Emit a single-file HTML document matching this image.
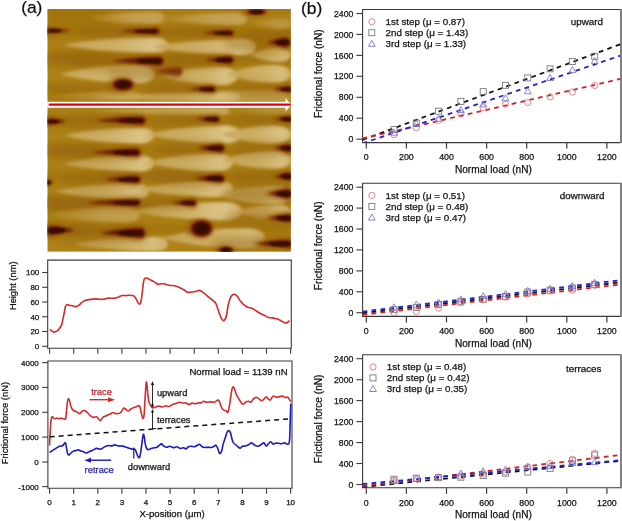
<!DOCTYPE html><html><head><meta charset="utf-8"><style>html,body{margin:0;padding:0;background:#fff;}svg{display:block;font-family:"Liberation Sans", sans-serif;will-change:transform;}</style></head><body>
<svg width="622" height="521" viewBox="0 0 622 521">
<rect width="622" height="521" fill="#fff"/>
<defs><clipPath id="afmclip"><rect x="47.3" y="9.0" width="243.6" height="242.8"/></clipPath><filter id="bl4" x="-20%" y="-80%" width="140%" height="260%"><feGaussianBlur stdDeviation="4"/></filter><filter id="bl3" x="-20%" y="-80%" width="140%" height="260%"><feGaussianBlur stdDeviation="2.2"/></filter><filter id="blL" x="-20%" y="-80%" width="140%" height="260%"><feGaussianBlur stdDeviation="1.4"/></filter><filter id="bl1" x="-20%" y="-80%" width="140%" height="260%"><feGaussianBlur stdDeviation="1.1"/></filter><filter id="bl2" x="-20%" y="-80%" width="140%" height="260%"><feGaussianBlur stdDeviation="1.5"/></filter><linearGradient id="lg" x1="0" y1="0" x2="1" y2="0"><stop offset="0" stop-color="#c6a458"/><stop offset="0.55" stop-color="#d4b872"/><stop offset="0.85" stop-color="#dec88e"/><stop offset="1" stop-color="#d4b872"/></linearGradient><linearGradient id="lgm" x1="0" y1="0" x2="1" y2="0"><stop offset="0" stop-color="#ae8218"/><stop offset="0.6" stop-color="#c6a458"/><stop offset="1" stop-color="#c6a458"/></linearGradient></defs>
<g clip-path="url(#afmclip)">
<rect x="47.3" y="9.0" width="243.59999999999997" height="242.8" fill="#ae8218"/>
<g filter="url(#bl4)">
<rect x="40" y="5" width="260" height="6" rx="4" fill="#98660a" opacity="0.55"/>
<rect x="40" y="26" width="260" height="11" rx="4" fill="#98660a" opacity="0.55"/>
<rect x="240" y="30" width="60" height="17" rx="4" fill="#98660a" opacity="0.55"/>
<rect x="169" y="52" width="122" height="11" rx="4" fill="#98660a" opacity="0.55"/>
<rect x="47" y="50" width="68" height="12" rx="4" fill="#98660a" opacity="0.55"/>
<rect x="47" y="84" width="73" height="15" rx="4" fill="#98660a" opacity="0.55"/>
<rect x="40" y="56" width="260" height="8" rx="4" fill="#98660a" opacity="0.55"/>
<rect x="40" y="84" width="260" height="7" rx="4" fill="#98660a" opacity="0.55"/>
<rect x="40" y="117" width="260" height="8" rx="4" fill="#98660a" opacity="0.55"/>
<rect x="40" y="146" width="260" height="8" rx="4" fill="#98660a" opacity="0.55"/>
<rect x="40" y="172" width="260" height="9" rx="4" fill="#98660a" opacity="0.55"/>
<rect x="40" y="198" width="260" height="9" rx="4" fill="#98660a" opacity="0.55"/>
<rect x="40" y="224" width="260" height="10" rx="4" fill="#98660a" opacity="0.55"/>
<rect x="47" y="10" width="63" height="14" rx="4" fill="#98660a" opacity="0.55"/>
<rect x="47" y="55" width="43" height="11" rx="4" fill="#98660a" opacity="0.55"/>
<rect x="47" y="196" width="53" height="18" rx="4" fill="#98660a" opacity="0.55"/>
<rect x="47" y="144" width="53" height="12" rx="4" fill="#98660a" opacity="0.55"/>
<rect x="100" y="170" width="100" height="10" rx="4" fill="#98660a" opacity="0.55"/>
<rect x="47" y="223" width="43" height="13" rx="4" fill="#98660a" opacity="0.55"/>
</g>
<g filter="url(#blL)">
<path d="M88,18 C114.95,12 150.6,12 155.4,12 A9.600000000000001,6 0 0 1 155.4,24 C150.6,24 114.95,24 88,18 Z" fill="url(#lgm)" opacity="0.9"/>
<path d="M158,19 C189.15,13 232.6,13 237.4,13 A9.600000000000001,6 0 0 1 237.4,25 C232.6,25 189.15,25 158,19 Z" fill="url(#lgm)" opacity="0.9"/>
<path d="M250,24 C264.35,19 279.0,19 283.0,19 A8.0,5 0 0 1 283.0,29 C279.0,29 264.35,29 250,24 Z" fill="url(#lgm)" opacity="0.6"/>
<path d="M64,45 C100.4,37 148.8,37 155.2,37 A12.8,8 0 0 1 155.2,53 C148.8,53 100.4,53 64,45 Z" fill="url(#lg)" opacity="0.95"/>
<path d="M152,47 C188.4,39 236.8,39 243.2,39 A12.8,8 0 0 1 243.2,55 C236.8,55 188.4,55 152,47 Z" fill="url(#lg)" opacity="0.95"/>
<path d="M250,55 C264.35,48 274.2,48 279.8,48 A11.200000000000001,7 0 0 1 279.8,62 C274.2,62 264.35,62 250,55 Z" fill="url(#lg)" opacity="0.8"/>
<path d="M60,74 C93.25,65 133.4,65 140.6,65 A14.4,9 0 0 1 140.6,83 C133.4,83 93.25,83 60,74 Z" fill="url(#lg)" opacity="1.0"/>
<path d="M161,76 C187.95,67 216.4,67 223.6,67 A14.4,9 0 0 1 223.6,85 C216.4,85 187.95,85 161,76 Z" fill="url(#lg)" opacity="0.9"/>
<path d="M226,74 C248.75,65 269.4,65 276.6,65 A14.4,9 0 0 1 276.6,83 C269.4,83 248.75,83 226,74 Z" fill="url(#lg)" opacity="0.85"/>
<path d="M50,96 C81.5,91 128.0,91 132.0,91 A8.0,5 0 0 1 132.0,101 C128.0,101 81.5,101 50,96 Z" fill="url(#lgm)" opacity="0.6"/>
<path d="M140,96 C192.85,90 276.6,90 281.4,90 A9.600000000000001,6 0 0 1 281.4,102 C276.6,102 192.85,102 140,96 Z" fill="url(#lgm)" opacity="0.8"/>
<path d="M95,97 C145.75,92.5 229.2,92.5 232.8,92.5 A7.2,4.5 0 0 1 232.8,101.5 C229.2,101.5 145.75,101.5 95,97 Z" fill="url(#lg)" opacity="0.75"/>
<path d="M90,111 C139.0,107 220.4,107 223.6,107 A6.4,4 0 0 1 223.6,115 C220.4,115 139.0,115 90,111 Z" fill="url(#lg)" opacity="0.6"/>
<path d="M230,111 C251.35,107.5 282.6,107.5 285.4,107.5 A5.6000000000000005,3.5 0 0 1 285.4,114.5 C282.6,114.5 251.35,114.5 230,111 Z" fill="url(#lgm)" opacity="0.6"/>
<path d="M64,135.5 C95.5,127.5 134.8,127.5 141.2,127.5 A12.8,8 0 0 1 141.2,143.5 C134.8,143.5 95.5,143.5 64,135.5 Z" fill="url(#lg)" opacity="0.95"/>
<path d="M147,134.5 C180.25,125.5 220.4,125.5 227.6,125.5 A14.4,9 0 0 1 227.6,143.5 C220.4,143.5 180.25,143.5 147,134.5 Z" fill="url(#lg)" opacity="0.95"/>
<path d="M222,134.5 C246.15,125.5 269.4,125.5 276.6,125.5 A14.4,9 0 0 1 276.6,143.5 C269.4,143.5 246.15,143.5 222,134.5 Z" fill="url(#lg)" opacity="0.95"/>
<path d="M64,163.5 C95.5,155.5 134.8,155.5 141.2,155.5 A12.8,8 0 0 1 141.2,171.5 C134.8,171.5 95.5,171.5 64,163.5 Z" fill="url(#lg)" opacity="0.9"/>
<path d="M147,162.5 C177.1,153.5 211.4,153.5 218.6,153.5 A14.4,9 0 0 1 218.6,171.5 C211.4,171.5 177.1,171.5 147,162.5 Z" fill="url(#lg)" opacity="0.9"/>
<path d="M222,160 C246.15,151 269.4,151 276.6,151 A14.4,9 0 0 1 276.6,169 C269.4,169 246.15,169 222,160 Z" fill="url(#lg)" opacity="0.9"/>
<path d="M55,191.5 C87.9,183.5 129.8,183.5 136.2,183.5 A12.8,8 0 0 1 136.2,199.5 C129.8,199.5 87.9,199.5 55,191.5 Z" fill="url(#lg)" opacity="0.85"/>
<path d="M138,189 C171.25,181 213.8,181 220.2,181 A12.8,8 0 0 1 220.2,197 C213.8,197 171.25,197 138,189 Z" fill="url(#lg)" opacity="0.9"/>
<path d="M217,195 C242.9,186 269.4,186 276.6,186 A14.4,9 0 0 1 276.6,204 C269.4,204 242.9,204 217,195 Z" fill="url(#lg)" opacity="0.85"/>
<path d="M47,214.5 C79.55,206.5 120.8,206.5 127.2,206.5 A12.8,8 0 0 1 127.2,222.5 C120.8,222.5 79.55,222.5 47,214.5 Z" fill="url(#lgm)" opacity="0.85"/>
<path d="M133,211 C171.15,202 220.4,202 227.6,202 A14.4,9 0 0 1 227.6,220 C220.4,220 171.15,220 133,211 Z" fill="url(#lg)" opacity="0.95"/>
<path d="M235,212 C254.6,205 274.2,205 279.8,205 A11.200000000000001,7 0 0 1 279.8,219 C274.2,219 254.6,219 235,212 Z" fill="url(#lg)" opacity="0.8"/>
<path d="M74,244 C106.9,237 151.2,237 156.8,237 A11.200000000000001,7 0 0 1 156.8,251 C151.2,251 106.9,251 74,244 Z" fill="url(#lg)" opacity="0.85"/>
<path d="M161,238 C197.4,228 241.0,228 249.0,228 A16.0,10 0 0 1 249.0,248 C241.0,248 197.4,248 161,238 Z" fill="url(#lg)" opacity="0.9"/>
</g>
<g filter="url(#bl4)" fill="#92600a" opacity="0.42">
<ellipse cx="117.0" cy="31.8" rx="42.0" ry="6.8"/>
<ellipse cx="195.5" cy="33.5" rx="37.5" ry="6.5"/>
<ellipse cx="256.5" cy="43.0" rx="33.5" ry="9.0"/>
<ellipse cx="115.0" cy="61.5" rx="48.0" ry="8.5"/>
<ellipse cx="196.5" cy="60.5" rx="36.5" ry="7.5"/>
<ellipse cx="143.5" cy="72.0" rx="38.5" ry="9.0"/>
<ellipse cx="180.0" cy="89.8" rx="35.0" ry="6.8"/>
<ellipse cx="260.5" cy="89.8" rx="31.5" ry="6.8"/>
<ellipse cx="98.0" cy="121.0" rx="47.0" ry="8.0"/>
<ellipse cx="185.0" cy="119.8" rx="34.0" ry="6.8"/>
<ellipse cx="261.0" cy="119.8" rx="31.0" ry="6.8"/>
<ellipse cx="93.5" cy="153.0" rx="46.5" ry="8.0"/>
<ellipse cx="188.5" cy="148.8" rx="35.5" ry="7.8"/>
<ellipse cx="261.0" cy="148.8" rx="31.0" ry="7.8"/>
<ellipse cx="100.0" cy="180.0" rx="40.0" ry="7.5"/>
<ellipse cx="187.0" cy="179.0" rx="37.0" ry="8.0"/>
<ellipse cx="261.0" cy="177.0" rx="31.0" ry="8.0"/>
<ellipse cx="91.0" cy="203.2" rx="49.0" ry="7.2"/>
<ellipse cx="161.5" cy="203.5" rx="34.5" ry="7.0"/>
<ellipse cx="257.5" cy="194.2" rx="34.5" ry="9.2"/>
<ellipse cx="257.5" cy="218.8" rx="34.5" ry="8.2"/>
<ellipse cx="100.0" cy="233.5" rx="45.0" ry="9.5"/>
<ellipse cx="251.0" cy="244.2" rx="41.0" ry="8.2"/>
</g>
<g filter="url(#bl3)" fill="#9a5a08" opacity="0.75">
<path d="M72,30.75 Q57.0,26.475 46.75,26.0 A4.75,4.75 0 0 0 46.75,35.5 Q57.0,33.125 72,30.75 Z"/>
<path d="M115,31.25 Q138.0,26.525 155.75,26.0 A5.25,5.25 0 0 1 155.75,36.5 Q138.0,33.875 115,31.25 Z"/>
<path d="M198,33.0 Q216.5,28.5 230.0,28.0 A5.0,5.0 0 0 1 230.0,38.0 Q216.5,35.5 198,33.0 Z"/>
<ellipse cx="255.0" cy="11.75" rx="13.0" ry="4.75"/>
<path d="M263,42.5 Q277.5,35.75 284.5,35.0 A7.5,7.5 0 0 1 284.5,50.0 Q277.5,46.25 263,42.5 Z"/>
<path d="M107,61.0 Q136.0,54.7 158.0,54.0 A7.0,7.0 0 0 1 158.0,68.0 Q136.0,64.5 107,61.0 Z"/>
<path d="M200,60.0 Q217.5,54.6 229.0,54.0 A6.0,6.0 0 0 1 229.0,66.0 Q217.5,63.0 200,60.0 Z"/>
<path d="M150,71.5 Q166.0,66.55 176.5,66.0 A5.5,5.5 0 0 1 176.5,77.0 Q166.0,74.25 150,71.5 Z"/>
<path d="M150,71.5 Q166.0,66.55 176.5,66.0 A5.5,5.5 0 0 1 176.5,77.0 Q166.0,74.25 150,71.5 Z"/>
<ellipse cx="121.5" cy="84.5" rx="13.5" ry="7.5"/>
<path d="M185,89.25 Q201.0,84.525 211.75,84.0 A5.25,5.25 0 0 1 211.75,94.5 Q201.0,91.875 185,89.25 Z"/>
<path d="M269,89.25 Q281.5,84.525 288.75,84.0 A5.25,5.25 0 0 1 288.75,94.5 Q281.5,91.875 269,89.25 Z"/>
<path d="M68,121.5 Q55.0,116.55 47.5,116.0 A5.5,5.5 0 0 0 47.5,127.0 Q55.0,124.25 68,121.5 Z"/>
<path d="M91,120.5 Q119.0,114.65 140.5,114.0 A6.5,6.5 0 0 1 140.5,127.0 Q119.0,123.75 91,120.5 Z"/>
<path d="M191,119.25 Q206.0,114.525 215.75,114.0 A5.25,5.25 0 0 1 215.75,124.5 Q206.0,121.875 191,119.25 Z"/>
<path d="M270,119.25 Q282.0,114.525 288.75,114.0 A5.25,5.25 0 0 1 288.75,124.5 Q282.0,121.875 270,119.25 Z"/>
<path d="M87,152.5 Q114.5,146.65 135.5,146.0 A6.5,6.5 0 0 1 135.5,159.0 Q114.5,155.75 87,152.5 Z"/>
<path d="M193,148.25 Q209.5,142.625 219.75,142.0 A6.25,6.25 0 0 1 219.75,154.5 Q209.5,151.375 193,148.25 Z"/>
<path d="M270,148.25 Q282.0,142.625 287.75,142.0 A6.25,6.25 0 0 1 287.75,154.5 Q282.0,151.375 270,148.25 Z"/>
<path d="M54,182.5 Q48.0,177.55 47.5,177.0 A5.5,5.5 0 0 0 47.5,188.0 Q48.0,185.25 54,182.5 Z"/>
<path d="M100,179.5 Q121.0,174.1 136.0,173.5 A6.0,6.0 0 0 1 136.0,185.5 Q121.0,182.5 100,179.5 Z"/>
<path d="M190,178.5 Q208.0,172.65 219.5,172.0 A6.5,6.5 0 0 1 219.5,185.0 Q208.0,181.75 190,178.5 Z"/>
<path d="M270,176.5 Q282.0,170.65 287.5,170.0 A6.5,6.5 0 0 1 287.5,183.0 Q282.0,179.75 270,176.5 Z"/>
<path d="M82,202.75 Q112.0,197.575 136.25,197.0 A5.75,5.75 0 0 1 136.25,208.5 Q112.0,205.625 82,202.75 Z"/>
<path d="M167,203.0 Q182.5,198.05 192.5,197.5 A5.5,5.5 0 0 1 192.5,208.5 Q182.5,205.75 167,203.0 Z"/>
<path d="M263,193.75 Q278.5,186.775 286.25,186.0 A7.75,7.75 0 0 1 286.25,201.5 Q278.5,197.625 263,193.75 Z"/>
<path d="M263,218.25 Q278.5,212.175 287.25,211.5 A6.75,6.75 0 0 1 287.25,225.0 Q278.5,221.625 263,218.25 Z"/>
<path d="M77,230.5 Q59.5,223.75 49.5,223.0 A7.5,7.5 0 0 0 49.5,238.0 Q59.5,234.25 77,230.5 Z"/>
<path d="M95,233.0 Q121.0,225.8 139.0,225.0 A8.0,8.0 0 0 1 139.0,241.0 Q121.0,237.0 95,233.0 Z"/>
<ellipse cx="200.0" cy="228.5" rx="14.0" ry="10.0"/>
<path d="M250,243.75 Q272.0,237.675 287.25,237.0 A6.75,6.75 0 0 1 287.25,250.5 Q272.0,247.125 250,243.75 Z"/>
<ellipse cx="224.5" cy="250.5" rx="10.5" ry="5.5"/>
</g>
<g filter="url(#bl2)" fill="#5e0c02">
<path d="M70,30.75 Q58.5,28.77 49.2,28.549999999999997 A2.200000000000001,2.200000000000001 0 0 0 49.2,32.95 Q58.5,31.85 70,30.75 Z"/>
<path d="M120,31.25 Q139.5,28.91 156.4,28.65 A2.6000000000000014,2.6000000000000014 0 0 1 156.4,33.85 Q139.5,32.55 120,31.25 Z"/>
<path d="M203,33.0 Q218.0,30.84 230.6,30.6 A2.3999999999999986,2.3999999999999986 0 0 1 230.6,35.4 Q218.0,34.2 203,33.0 Z"/>
<ellipse cx="256.5" cy="11.75" rx="9.5" ry="2.75"/>
<path d="M268,42.5 Q279.0,38.54 285.6,38.1 A4.399999999999999,4.399999999999999 0 0 1 285.6,46.9 Q279.0,44.7 268,42.5 Z"/>
<path d="M112,61.0 Q137.5,57.4 159.0,57.0 A4.0,4.0 0 0 1 159.0,65.0 Q137.5,63.0 112,61.0 Z"/>
<path d="M205,60.0 Q219.0,57.12 229.8,56.8 A3.200000000000003,3.200000000000003 0 0 1 229.8,63.2 Q219.0,61.6 205,60.0 Z"/>
<path d="M156,71.5 Q169.0,67.9 178.0,67.5 A4.0,4.0 0 0 1 178.0,75.5 Q169.0,73.5 156,71.5 Z" opacity="0.55"/>
<ellipse cx="123.0" cy="84.5" rx="10.0" ry="5.5"/>
<path d="M190,89.25 Q202.5,86.91000000000001 212.4,86.65 A2.5999999999999943,2.5999999999999943 0 0 1 212.4,91.85 Q202.5,90.55 190,89.25 Z"/>
<path d="M274,89.25 Q283.0,86.91000000000001 289.4,86.65 A2.5999999999999943,2.5999999999999943 0 0 1 289.4,91.85 Q283.0,90.55 274,89.25 Z"/>
<path d="M66,121.5 Q56.5,118.98 49.8,118.7 A2.799999999999997,2.799999999999997 0 0 0 49.8,124.3 Q56.5,122.9 66,121.5 Z"/>
<path d="M96,120.5 Q120.5,117.26 141.4,116.9 A3.5999999999999943,3.5999999999999943 0 0 1 141.4,124.1 Q120.5,122.3 96,120.5 Z"/>
<path d="M196,119.25 Q207.5,116.91000000000001 216.4,116.65 A2.5999999999999943,2.5999999999999943 0 0 1 216.4,121.85 Q207.5,120.55 196,119.25 Z"/>
<path d="M275,119.25 Q283.5,116.91000000000001 289.4,116.65 A2.5999999999999943,2.5999999999999943 0 0 1 289.4,121.85 Q283.5,120.55 275,119.25 Z"/>
<path d="M92,152.5 Q116.0,149.26 136.4,148.9 A3.5999999999999943,3.5999999999999943 0 0 1 136.4,156.1 Q116.0,154.3 92,152.5 Z"/>
<path d="M198,148.25 Q211.0,145.19 220.6,144.85 A3.4000000000000057,3.4000000000000057 0 0 1 220.6,151.65 Q211.0,149.95 198,148.25 Z"/>
<path d="M275,148.25 Q283.5,145.19 288.6,144.85 A3.4000000000000057,3.4000000000000057 0 0 1 288.6,151.65 Q283.5,149.95 275,148.25 Z"/>
<path d="M52,182.5 Q49.5,179.98 49.5,179.7 A2.5,2.8000000000000114 0 0 0 49.5,185.3 Q49.5,183.9 52,182.5 Z"/>
<path d="M105,179.5 Q122.5,176.62 136.8,176.3 A3.1999999999999886,3.1999999999999886 0 0 1 136.8,182.7 Q122.5,181.1 105,179.5 Z"/>
<path d="M195,178.5 Q209.5,175.26 220.4,174.9 A3.5999999999999943,3.5999999999999943 0 0 1 220.4,182.1 Q209.5,180.3 195,178.5 Z"/>
<path d="M275,176.5 Q283.5,173.26 288.4,172.9 A3.5999999999999943,3.5999999999999943 0 0 1 288.4,180.1 Q283.5,178.3 275,176.5 Z"/>
<path d="M87,202.75 Q113.5,200.05 137.0,199.75 A3.0,3.0 0 0 1 137.0,205.75 Q113.5,204.25 87,202.75 Z"/>
<path d="M172,203.0 Q184.0,200.48 193.2,200.2 A2.8000000000000114,2.8000000000000114 0 0 1 193.2,205.8 Q184.0,204.4 172,203.0 Z"/>
<path d="M268,193.75 Q280.0,189.61 287.4,189.15 A4.599999999999994,4.599999999999994 0 0 1 287.4,198.35 Q280.0,196.05 268,193.75 Z"/>
<path d="M268,218.25 Q280.0,214.82999999999998 288.2,214.45 A3.8000000000000114,3.8000000000000114 0 0 1 288.2,222.05 Q280.0,220.15 268,218.25 Z"/>
<path d="M75,230.5 Q61.0,226.54 51.400000000000006,226.1 A4.400000000000006,4.400000000000006 0 0 0 51.400000000000006,234.9 Q61.0,232.7 75,230.5 Z"/>
<path d="M100,233.0 Q122.5,228.67999999999998 140.2,228.2 A4.800000000000011,4.800000000000011 0 0 1 140.2,237.8 Q122.5,235.4 100,233.0 Z"/>
<ellipse cx="201.5" cy="228.5" rx="10.5" ry="8.0"/>
<path d="M255,243.75 Q273.5,240.32999999999998 288.2,239.95 A3.8000000000000114,3.8000000000000114 0 0 1 288.2,247.55 Q273.5,245.65 255,243.75 Z"/>
<ellipse cx="226.0" cy="250.5" rx="7.0" ry="3.5"/>
</g>
<g filter="url(#bl1)" fill="#300800">
<ellipse cx="54.6" cy="30.8" rx="6.9" ry="1.2"/>
<ellipse cx="146.1" cy="31.2" rx="11.7" ry="1.4"/>
<ellipse cx="223.1" cy="33.0" rx="9.0" ry="1.3"/>
<ellipse cx="256.5" cy="11.8" rx="6.3" ry="1.8"/>
<ellipse cx="282.7" cy="42.5" rx="6.6" ry="2.3"/>
<ellipse cx="149.0" cy="61.0" rx="12.5" ry="2.1"/>
<ellipse cx="223.8" cy="60.0" rx="8.4" ry="1.7"/>
<ellipse cx="123.0" cy="84.5" rx="6.6" ry="3.6"/>
<ellipse cx="206.8" cy="89.2" rx="7.5" ry="1.4"/>
<ellipse cx="286.1" cy="89.2" rx="5.4" ry="1.4"/>
<ellipse cx="53.3" cy="121.5" rx="5.7" ry="1.5"/>
<ellipse cx="131.0" cy="120.5" rx="12.5" ry="1.9"/>
<ellipse cx="211.4" cy="119.2" rx="6.9" ry="1.4"/>
<ellipse cx="286.4" cy="119.2" rx="5.1" ry="1.4"/>
<ellipse cx="126.0" cy="152.5" rx="12.5" ry="1.9"/>
<ellipse cx="215.4" cy="148.2" rx="7.8" ry="1.8"/>
<ellipse cx="286.4" cy="148.2" rx="5.1" ry="1.8"/>
<ellipse cx="48.6" cy="182.5" rx="1.5" ry="1.5"/>
<ellipse cx="128.4" cy="179.5" rx="10.5" ry="1.7"/>
<ellipse cx="214.4" cy="178.5" rx="8.7" ry="1.9"/>
<ellipse cx="286.4" cy="176.5" rx="5.1" ry="1.9"/>
<ellipse cx="126.0" cy="202.8" rx="12.5" ry="1.6"/>
<ellipse cx="188.1" cy="203.0" rx="7.2" ry="1.5"/>
<ellipse cx="284.1" cy="193.8" rx="7.2" ry="2.4"/>
<ellipse cx="284.1" cy="218.2" rx="7.2" ry="2.0"/>
<ellipse cx="56.2" cy="230.5" rx="8.4" ry="2.3"/>
<ellipse cx="131.0" cy="233.0" rx="12.5" ry="2.5"/>
<ellipse cx="201.5" cy="228.5" rx="6.9" ry="5.3"/>
<ellipse cx="279.8" cy="243.8" rx="11.1" ry="2.0"/>
<ellipse cx="226.0" cy="250.5" rx="4.6" ry="2.3"/>
</g>
</g>
<g>
<line x1="47.3" y1="104.8" x2="287" y2="104.8" stroke="#fff" stroke-width="6"/>
<path d="M285.5,98 L291.4,104.8 L285.5,111.5 Z" fill="#fff"/>
<line x1="49.6" y1="104.7" x2="289.8" y2="104.7" stroke="#e00010" stroke-width="2.2" stroke-linecap="round"/>
</g>
<text x="31.8" y="13.3" font-size="17.4" text-anchor="middle" fill="#111" stroke="#111" stroke-width="0.25" >(a)</text>
<text x="311.6" y="13.6" font-size="17.4" text-anchor="middle" fill="#111" stroke="#111" stroke-width="0.25" >(b)</text>
<path d="M47.7,260.1 L291.3,260.1 L291.3,348.2 L47.7,348.2 Z" fill="none" stroke="#3a3a3a" stroke-width="1.1"/>
<line x1="42.2" y1="346.3" x2="47.7" y2="346.3" stroke="#3a3a3a" stroke-width="1.1"/>
<text x="39.3" y="349.2" font-size="8.0" text-anchor="end" fill="#111" stroke="#111" stroke-width="0.25" >0</text>
<line x1="42.2" y1="331.5" x2="47.7" y2="331.5" stroke="#3a3a3a" stroke-width="1.1"/>
<text x="39.3" y="334.4" font-size="8.0" text-anchor="end" fill="#111" stroke="#111" stroke-width="0.25" >20</text>
<line x1="42.2" y1="316.8" x2="47.7" y2="316.8" stroke="#3a3a3a" stroke-width="1.1"/>
<text x="39.3" y="319.7" font-size="8.0" text-anchor="end" fill="#111" stroke="#111" stroke-width="0.25" >40</text>
<line x1="42.2" y1="302.0" x2="47.7" y2="302.0" stroke="#3a3a3a" stroke-width="1.1"/>
<text x="39.3" y="304.9" font-size="8.0" text-anchor="end" fill="#111" stroke="#111" stroke-width="0.25" >60</text>
<line x1="42.2" y1="287.3" x2="47.7" y2="287.3" stroke="#3a3a3a" stroke-width="1.1"/>
<text x="39.3" y="290.2" font-size="8.0" text-anchor="end" fill="#111" stroke="#111" stroke-width="0.25" >80</text>
<line x1="42.2" y1="272.5" x2="47.7" y2="272.5" stroke="#3a3a3a" stroke-width="1.1"/>
<text x="39.3" y="275.4" font-size="8.0" text-anchor="end" fill="#111" stroke="#111" stroke-width="0.25" >100</text>
<line x1="49.6" y1="348.5" x2="49.6" y2="353.8" stroke="#3a3a3a" stroke-width="1.1"/>
<line x1="73.7" y1="348.5" x2="73.7" y2="353.8" stroke="#3a3a3a" stroke-width="1.1"/>
<line x1="97.8" y1="348.5" x2="97.8" y2="353.8" stroke="#3a3a3a" stroke-width="1.1"/>
<line x1="121.9" y1="348.5" x2="121.9" y2="353.8" stroke="#3a3a3a" stroke-width="1.1"/>
<line x1="146.0" y1="348.5" x2="146.0" y2="353.8" stroke="#3a3a3a" stroke-width="1.1"/>
<line x1="170.1" y1="348.5" x2="170.1" y2="353.8" stroke="#3a3a3a" stroke-width="1.1"/>
<line x1="194.2" y1="348.5" x2="194.2" y2="353.8" stroke="#3a3a3a" stroke-width="1.1"/>
<line x1="218.3" y1="348.5" x2="218.3" y2="353.8" stroke="#3a3a3a" stroke-width="1.1"/>
<line x1="242.4" y1="348.5" x2="242.4" y2="353.8" stroke="#3a3a3a" stroke-width="1.1"/>
<line x1="266.5" y1="348.5" x2="266.5" y2="353.8" stroke="#3a3a3a" stroke-width="1.1"/>
<line x1="290.6" y1="348.5" x2="290.6" y2="353.8" stroke="#3a3a3a" stroke-width="1.1"/>
<text x="15.8" y="285.8" font-size="9.3" text-anchor="middle" fill="#111" stroke="#111" stroke-width="0.25" transform="rotate(-90 15.8 285.8)">Height (nm)</text>
<path d="M50.00,329.20 C50.33,329.53 51.32,330.72 52.00,331.20 C52.68,331.68 53.30,332.10 54.10,332.10 C54.90,332.10 55.92,331.80 56.80,331.20 C57.68,330.60 58.62,329.52 59.40,328.50 C60.18,327.48 60.93,326.57 61.50,325.10 C62.07,323.63 62.35,321.72 62.80,319.70 C63.25,317.68 63.75,315.23 64.20,313.00 C64.65,310.77 65.07,307.68 65.50,306.30 C65.93,304.92 66.13,304.88 66.80,304.70 C67.47,304.52 68.48,304.98 69.50,305.20 C70.52,305.42 71.77,305.77 72.90,306.00 C74.03,306.23 75.30,306.73 76.30,306.60 C77.30,306.47 78.02,305.85 78.90,305.20 C79.78,304.55 80.70,303.45 81.60,302.70 C82.50,301.95 83.28,301.18 84.30,300.70 C85.32,300.22 86.47,300.03 87.70,299.80 C88.93,299.57 90.37,299.45 91.70,299.30 C93.03,299.15 94.35,298.90 95.70,298.90 C97.05,298.90 98.45,299.23 99.80,299.30 C101.15,299.37 102.57,299.48 103.80,299.30 C105.03,299.12 106.08,298.38 107.20,298.20 C108.32,298.02 109.27,298.20 110.50,298.20 C111.73,298.20 113.47,298.30 114.60,298.20 C115.73,298.10 116.40,297.93 117.30,297.60 C118.20,297.27 119.12,296.55 120.00,296.20 C120.88,295.85 121.60,295.60 122.60,295.50 C123.60,295.40 125.10,295.63 126.00,295.60 C126.90,295.57 127.10,295.32 128.00,295.30 C128.90,295.28 130.38,295.35 131.40,295.50 C132.42,295.65 133.32,295.63 134.10,296.20 C134.88,296.77 135.43,297.78 136.10,298.90 C136.77,300.02 137.53,302.00 138.10,302.90 C138.67,303.80 139.05,304.40 139.50,304.30 C139.95,304.20 140.35,304.20 140.80,302.30 C141.25,300.40 141.75,296.27 142.20,292.90 C142.65,289.53 143.07,284.53 143.50,282.10 C143.93,279.67 144.23,278.97 144.80,278.30 C145.37,277.63 146.22,277.97 146.90,278.10 C147.58,278.23 148.02,278.65 148.90,279.10 C149.78,279.55 151.08,280.18 152.20,280.80 C153.32,281.42 154.58,282.20 155.60,282.80 C156.62,283.40 157.40,284.23 158.30,284.40 C159.20,284.57 160.10,283.90 161.00,283.80 C161.90,283.70 162.70,283.63 163.70,283.80 C164.70,283.97 165.88,284.52 167.00,284.80 C168.12,285.08 169.17,285.35 170.40,285.50 C171.63,285.65 173.17,285.48 174.40,285.70 C175.63,285.92 176.57,286.28 177.80,286.80 C179.03,287.32 180.68,288.23 181.80,288.80 C182.92,289.37 183.60,289.63 184.50,290.20 C185.40,290.77 186.30,291.87 187.20,292.20 C188.10,292.53 188.78,292.27 189.90,292.20 C191.02,292.13 192.78,291.97 193.90,291.80 C195.02,291.63 195.82,291.43 196.60,291.20 C197.38,290.97 197.93,290.47 198.60,290.40 C199.27,290.33 200.03,290.60 200.60,290.80 C201.17,291.00 201.17,290.98 202.00,291.60 C202.83,292.22 204.40,293.48 205.60,294.50 C206.80,295.52 207.98,296.73 209.20,297.70 C210.42,298.67 211.82,299.38 212.90,300.30 C213.98,301.22 214.87,301.77 215.70,303.20 C216.53,304.63 217.17,306.85 217.90,308.90 C218.63,310.95 219.37,313.68 220.10,315.50 C220.83,317.32 221.58,319.02 222.30,319.80 C223.02,320.58 223.73,320.80 224.40,320.20 C225.07,319.60 225.70,318.57 226.30,316.20 C226.90,313.83 227.35,309.02 228.00,306.00 C228.65,302.98 229.47,299.95 230.20,298.10 C230.93,296.25 231.60,295.50 232.40,294.90 C233.20,294.30 234.15,294.22 235.00,294.50 C235.85,294.78 236.62,295.52 237.50,296.60 C238.38,297.68 239.22,299.62 240.30,301.00 C241.38,302.38 242.78,303.87 244.00,304.90 C245.22,305.93 246.28,306.65 247.60,307.20 C248.92,307.75 250.58,307.67 251.90,308.20 C253.22,308.73 254.17,309.55 255.50,310.40 C256.83,311.25 258.45,312.50 259.90,313.30 C261.35,314.10 262.88,314.53 264.20,315.20 C265.52,315.87 266.47,316.85 267.80,317.30 C269.13,317.75 270.75,317.65 272.20,317.90 C273.65,318.15 275.18,318.42 276.50,318.80 C277.82,319.18 278.88,319.62 280.10,320.20 C281.32,320.78 282.78,321.82 283.80,322.30 C284.82,322.78 285.48,323.15 286.20,323.10 C286.92,323.05 287.55,322.43 288.10,322.00 C288.65,321.57 289.27,320.75 289.50,320.50" fill="none" stroke="#d42a2a" stroke-width="1.6" stroke-linejoin="round"/>
<path d="M47.9,361.0 L292.0,361.0 L292.0,488.3 L47.9,488.3 Z" fill="none" stroke="#3a3a3a" stroke-width="1.1"/>
<line x1="42.2" y1="362.6" x2="47.9" y2="362.6" stroke="#3a3a3a" stroke-width="1.1"/>
<text x="38.8" y="365.5" font-size="8.0" text-anchor="end" fill="#111" stroke="#111" stroke-width="0.25" >4000</text>
<line x1="42.2" y1="387.4" x2="47.9" y2="387.4" stroke="#3a3a3a" stroke-width="1.1"/>
<text x="38.8" y="390.3" font-size="8.0" text-anchor="end" fill="#111" stroke="#111" stroke-width="0.25" >3000</text>
<line x1="42.2" y1="412.3" x2="47.9" y2="412.3" stroke="#3a3a3a" stroke-width="1.1"/>
<text x="38.8" y="415.2" font-size="8.0" text-anchor="end" fill="#111" stroke="#111" stroke-width="0.25" >2000</text>
<line x1="42.2" y1="437.1" x2="47.9" y2="437.1" stroke="#3a3a3a" stroke-width="1.1"/>
<text x="38.8" y="440.0" font-size="8.0" text-anchor="end" fill="#111" stroke="#111" stroke-width="0.25" >1000</text>
<line x1="42.2" y1="462.0" x2="47.9" y2="462.0" stroke="#3a3a3a" stroke-width="1.1"/>
<text x="38.8" y="464.9" font-size="8.0" text-anchor="end" fill="#111" stroke="#111" stroke-width="0.25" >0</text>
<line x1="42.2" y1="486.6" x2="47.9" y2="486.6" stroke="#3a3a3a" stroke-width="1.1"/>
<text x="38.8" y="489.5" font-size="8.0" text-anchor="end" fill="#111" stroke="#111" stroke-width="0.25" >-1000</text>
<line x1="49.6" y1="488.6" x2="49.6" y2="493.8" stroke="#3a3a3a" stroke-width="1.1"/>
<text x="49.6" y="505.0" font-size="8.0" text-anchor="middle" fill="#111" stroke="#111" stroke-width="0.25" >0</text>
<line x1="73.7" y1="488.6" x2="73.7" y2="493.8" stroke="#3a3a3a" stroke-width="1.1"/>
<text x="73.7" y="505.0" font-size="8.0" text-anchor="middle" fill="#111" stroke="#111" stroke-width="0.25" >1</text>
<line x1="97.8" y1="488.6" x2="97.8" y2="493.8" stroke="#3a3a3a" stroke-width="1.1"/>
<text x="97.8" y="505.0" font-size="8.0" text-anchor="middle" fill="#111" stroke="#111" stroke-width="0.25" >2</text>
<line x1="121.9" y1="488.6" x2="121.9" y2="493.8" stroke="#3a3a3a" stroke-width="1.1"/>
<text x="121.9" y="505.0" font-size="8.0" text-anchor="middle" fill="#111" stroke="#111" stroke-width="0.25" >3</text>
<line x1="146.0" y1="488.6" x2="146.0" y2="493.8" stroke="#3a3a3a" stroke-width="1.1"/>
<text x="146.0" y="505.0" font-size="8.0" text-anchor="middle" fill="#111" stroke="#111" stroke-width="0.25" >4</text>
<line x1="170.1" y1="488.6" x2="170.1" y2="493.8" stroke="#3a3a3a" stroke-width="1.1"/>
<text x="170.1" y="505.0" font-size="8.0" text-anchor="middle" fill="#111" stroke="#111" stroke-width="0.25" >5</text>
<line x1="194.2" y1="488.6" x2="194.2" y2="493.8" stroke="#3a3a3a" stroke-width="1.1"/>
<text x="194.2" y="505.0" font-size="8.0" text-anchor="middle" fill="#111" stroke="#111" stroke-width="0.25" >6</text>
<line x1="218.3" y1="488.6" x2="218.3" y2="493.8" stroke="#3a3a3a" stroke-width="1.1"/>
<text x="218.3" y="505.0" font-size="8.0" text-anchor="middle" fill="#111" stroke="#111" stroke-width="0.25" >7</text>
<line x1="242.4" y1="488.6" x2="242.4" y2="493.8" stroke="#3a3a3a" stroke-width="1.1"/>
<text x="242.4" y="505.0" font-size="8.0" text-anchor="middle" fill="#111" stroke="#111" stroke-width="0.25" >8</text>
<line x1="266.5" y1="488.6" x2="266.5" y2="493.8" stroke="#3a3a3a" stroke-width="1.1"/>
<text x="266.5" y="505.0" font-size="8.0" text-anchor="middle" fill="#111" stroke="#111" stroke-width="0.25" >9</text>
<line x1="290.6" y1="488.6" x2="290.6" y2="493.8" stroke="#3a3a3a" stroke-width="1.1"/>
<text x="290.6" y="505.0" font-size="8.0" text-anchor="middle" fill="#111" stroke="#111" stroke-width="0.25" >10</text>
<text x="172.0" y="516.6" font-size="9.6" text-anchor="middle" fill="#111" stroke="#111" stroke-width="0.25" >X-position (&#956;m)</text>
<text x="7.6" y="423.1" font-size="9.4" text-anchor="middle" fill="#111" stroke="#111" stroke-width="0.25" transform="rotate(-90 7.6 423.1)">Frictional force (nN)</text>
<path d="M49.50,445.50 C49.58,443.93 49.80,439.73 50.00,436.10 C50.20,432.47 50.43,426.82 50.70,423.70 C50.97,420.58 51.30,418.55 51.60,417.40 C51.90,416.25 52.18,416.68 52.50,416.80 C52.82,416.92 53.02,417.78 53.50,418.10 C53.98,418.42 54.78,418.70 55.40,418.70 C56.02,418.70 56.58,418.10 57.20,418.10 C57.82,418.10 58.47,418.70 59.10,418.70 C59.73,418.70 60.27,418.10 61.00,418.10 C61.73,418.10 62.72,418.65 63.50,418.70 C64.28,418.75 65.18,419.85 65.70,418.40 C66.22,416.95 66.32,412.75 66.60,410.00 C66.88,407.25 67.10,403.82 67.40,401.90 C67.70,399.98 68.02,398.62 68.40,398.50 C68.78,398.38 69.28,399.92 69.70,401.20 C70.12,402.48 70.38,404.73 70.90,406.20 C71.42,407.67 72.07,409.17 72.80,410.00 C73.53,410.83 74.47,410.78 75.30,411.20 C76.13,411.62 77.07,412.08 77.80,412.50 C78.53,412.92 79.08,413.82 79.70,413.70 C80.32,413.58 80.88,412.32 81.50,411.80 C82.12,411.28 82.67,410.70 83.40,410.60 C84.13,410.50 85.07,410.68 85.90,411.20 C86.73,411.72 87.57,412.87 88.40,413.70 C89.23,414.53 90.07,415.58 90.90,416.20 C91.73,416.82 92.47,417.30 93.40,417.40 C94.33,417.50 95.67,416.58 96.50,416.80 C97.33,417.02 97.78,418.07 98.40,418.70 C99.02,419.33 99.68,420.50 100.20,420.60 C100.72,420.70 100.97,419.93 101.50,419.30 C102.03,418.67 102.68,417.37 103.40,416.80 C104.12,416.23 104.98,416.25 105.80,415.90 C106.62,415.55 107.47,415.07 108.30,414.70 C109.13,414.33 110.07,414.07 110.80,413.70 C111.53,413.33 111.97,412.53 112.70,412.50 C113.43,412.47 114.27,413.33 115.20,413.50 C116.13,413.67 117.37,413.67 118.30,413.50 C119.23,413.33 119.90,413.40 120.80,412.50 C121.70,411.60 122.87,408.63 123.70,408.10 C124.53,407.57 125.03,408.82 125.80,409.30 C126.57,409.78 127.47,411.05 128.30,411.00 C129.13,410.95 129.97,409.55 130.80,409.00 C131.63,408.45 132.37,408.07 133.30,407.70 C134.23,407.33 135.52,407.15 136.40,406.80 C137.28,406.45 138.02,405.60 138.60,405.60 C139.18,405.60 139.48,405.70 139.90,406.80 C140.32,407.90 140.62,410.28 141.10,412.20 C141.58,414.12 142.30,417.87 142.80,418.30 C143.30,418.73 143.75,417.68 144.10,414.80 C144.45,411.92 144.62,405.62 144.90,401.00 C145.18,396.38 145.57,390.28 145.80,387.10 C146.03,383.92 146.10,382.18 146.30,381.90 C146.50,381.62 146.72,383.08 147.00,385.40 C147.28,387.72 147.63,392.92 148.00,395.80 C148.37,398.68 148.70,400.98 149.20,402.70 C149.70,404.42 150.42,405.23 151.00,406.10 C151.58,406.97 151.98,407.75 152.70,407.90 C153.42,408.05 154.28,407.30 155.30,407.00 C156.32,406.70 157.65,406.10 158.80,406.10 C159.95,406.10 161.05,407.05 162.20,407.00 C163.35,406.95 164.55,405.88 165.70,405.80 C166.85,405.72 167.95,406.73 169.10,406.50 C170.25,406.27 171.43,404.90 172.60,404.40 C173.77,403.90 174.95,403.85 176.10,403.50 C177.25,403.15 178.35,402.38 179.50,402.30 C180.65,402.22 181.92,402.88 183.00,403.00 C184.08,403.12 184.98,402.75 186.00,403.00 C187.02,403.25 188.08,404.50 189.10,404.50 C190.12,404.50 191.08,403.12 192.10,403.00 C193.12,402.88 194.17,403.80 195.20,403.80 C196.23,403.80 197.28,403.18 198.30,403.00 C199.32,402.82 200.42,403.00 201.30,402.70 C202.18,402.40 202.70,401.28 203.60,401.20 C204.50,401.12 205.55,402.08 206.70,402.20 C207.85,402.32 209.22,401.90 210.50,401.90 C211.78,401.90 213.25,402.48 214.40,402.20 C215.55,401.92 216.63,400.45 217.40,400.20 C218.17,399.95 218.48,399.98 219.00,400.70 C219.52,401.42 220.00,403.22 220.50,404.50 C221.00,405.78 221.37,407.42 222.00,408.40 C222.63,409.38 223.60,410.02 224.30,410.40 C225.00,410.78 225.63,410.35 226.20,410.70 C226.77,411.05 227.25,412.77 227.70,412.50 C228.15,412.23 228.43,411.45 228.90,409.10 C229.37,406.75 229.98,401.72 230.50,398.40 C231.02,395.08 231.50,391.12 232.00,389.20 C232.50,387.28 232.97,386.65 233.50,386.90 C234.03,387.15 234.73,389.42 235.20,390.70 C235.67,391.98 235.73,393.32 236.30,394.60 C236.87,395.88 237.83,397.13 238.60,398.40 C239.37,399.67 240.13,401.23 240.90,402.20 C241.67,403.17 242.43,404.20 243.20,404.20 C243.97,404.20 244.60,402.70 245.50,402.20 C246.40,401.70 247.70,401.20 248.60,401.20 C249.50,401.20 250.13,402.53 250.90,402.20 C251.67,401.87 252.32,400.03 253.20,399.20 C254.08,398.37 255.18,397.20 256.20,397.20 C257.22,397.20 258.40,398.62 259.30,399.20 C260.20,399.78 260.83,400.70 261.60,400.70 C262.37,400.70 263.13,399.83 263.90,399.20 C264.67,398.57 265.43,396.90 266.20,396.90 C266.97,396.90 267.78,398.70 268.50,399.20 C269.22,399.70 269.73,400.42 270.50,399.90 C271.27,399.38 272.15,396.55 273.10,396.10 C274.05,395.65 275.17,397.12 276.20,397.20 C277.23,397.28 278.28,396.78 279.30,396.60 C280.32,396.42 281.28,395.93 282.30,396.10 C283.32,396.27 284.50,397.42 285.40,397.60 C286.30,397.78 287.07,396.93 287.70,397.20 C288.33,397.47 288.68,398.48 289.20,399.20 C289.72,399.92 290.53,401.12 290.80,401.50" fill="none" stroke="#d42a2a" stroke-width="1.6" stroke-linejoin="round"/>
<path d="M49.50,452.40 C49.85,452.18 50.73,451.63 51.60,451.10 C52.47,450.57 53.67,449.87 54.70,449.20 C55.73,448.53 56.87,447.62 57.80,447.10 C58.73,446.58 59.57,446.30 60.30,446.10 C61.03,445.90 61.67,446.10 62.20,445.90 C62.73,445.70 63.08,445.38 63.50,444.90 C63.92,444.42 64.33,443.22 64.70,443.00 C65.07,442.78 65.38,442.67 65.70,443.60 C66.02,444.53 66.25,446.83 66.60,448.60 C66.95,450.37 67.38,453.15 67.80,454.20 C68.22,455.25 68.58,455.10 69.10,454.90 C69.62,454.70 70.18,453.63 70.90,453.00 C71.62,452.37 72.57,451.52 73.40,451.10 C74.23,450.68 75.07,450.70 75.90,450.50 C76.73,450.30 77.57,449.83 78.40,449.90 C79.23,449.97 80.07,450.60 80.90,450.90 C81.73,451.20 82.57,451.35 83.40,451.70 C84.23,452.05 85.07,452.93 85.90,453.00 C86.73,453.07 87.57,452.42 88.40,452.10 C89.23,451.78 90.07,451.47 90.90,451.10 C91.73,450.73 92.47,450.35 93.40,449.90 C94.33,449.45 95.57,448.57 96.50,448.40 C97.43,448.23 98.27,448.77 99.00,448.90 C99.73,449.03 100.17,449.42 100.90,449.20 C101.63,448.98 102.47,448.12 103.40,447.60 C104.33,447.08 105.57,446.45 106.50,446.10 C107.43,445.75 108.17,445.53 109.00,445.50 C109.83,445.47 110.57,446.00 111.50,445.90 C112.43,445.80 113.67,444.97 114.60,444.90 C115.53,444.83 116.27,445.30 117.10,445.50 C117.93,445.70 118.77,446.03 119.60,446.10 C120.43,446.17 121.28,445.80 122.10,445.90 C122.92,446.00 123.68,446.45 124.50,446.70 C125.32,446.95 126.17,447.12 127.00,447.40 C127.83,447.68 128.67,448.10 129.50,448.40 C130.33,448.70 131.27,449.12 132.00,449.20 C132.73,449.28 133.33,448.78 133.90,448.90 C134.47,449.02 134.88,449.02 135.40,449.90 C135.92,450.78 136.50,452.98 137.00,454.20 C137.50,455.42 137.97,456.67 138.40,457.20 C138.83,457.73 139.23,458.12 139.60,457.40 C139.97,456.68 140.23,455.10 140.60,452.90 C140.97,450.70 141.37,447.23 141.80,444.20 C142.23,441.17 142.80,436.00 143.20,434.70 C143.60,433.40 143.85,434.82 144.20,436.40 C144.55,437.98 144.88,442.18 145.30,444.20 C145.72,446.22 146.18,447.58 146.70,448.50 C147.22,449.42 147.68,449.70 148.40,449.70 C149.12,449.70 150.00,448.83 151.00,448.50 C152.00,448.17 153.40,447.90 154.40,447.70 C155.40,447.50 156.13,447.73 157.00,447.30 C157.87,446.87 158.87,445.67 159.60,445.10 C160.33,444.53 160.73,443.77 161.40,443.90 C162.07,444.03 162.75,445.33 163.60,445.90 C164.45,446.47 165.43,447.23 166.50,447.30 C167.57,447.37 168.83,446.23 170.00,446.30 C171.17,446.37 172.35,447.62 173.50,447.70 C174.65,447.78 175.75,446.67 176.90,446.80 C178.05,446.93 179.25,448.35 180.40,448.50 C181.55,448.65 182.87,447.62 183.80,447.70 C184.73,447.78 185.25,449.17 186.00,449.00 C186.75,448.83 187.40,447.15 188.30,446.70 C189.20,446.25 190.38,446.30 191.40,446.30 C192.42,446.30 193.38,446.88 194.40,446.70 C195.42,446.52 196.60,445.58 197.50,445.20 C198.40,444.82 199.03,444.15 199.80,444.40 C200.57,444.65 201.20,446.18 202.10,446.70 C203.00,447.22 204.18,447.42 205.20,447.50 C206.22,447.58 207.18,447.20 208.20,447.20 C209.22,447.20 210.27,447.70 211.30,447.50 C212.33,447.30 213.63,446.38 214.40,446.00 C215.17,445.62 215.40,444.95 215.90,445.20 C216.40,445.45 216.88,446.35 217.40,447.50 C217.92,448.65 218.57,451.08 219.00,452.10 C219.43,453.12 219.57,453.73 220.00,453.60 C220.43,453.47 221.08,452.83 221.60,451.30 C222.12,449.77 222.52,446.57 223.10,444.40 C223.68,442.23 224.43,440.35 225.10,438.30 C225.77,436.25 226.52,433.38 227.10,432.10 C227.68,430.82 228.03,430.47 228.60,430.60 C229.17,430.73 229.93,431.50 230.50,432.90 C231.07,434.30 231.50,437.33 232.00,439.00 C232.50,440.67 232.65,441.73 233.50,442.90 C234.35,444.07 236.00,445.10 237.10,446.00 C238.20,446.90 239.22,448.25 240.10,448.30 C240.98,448.35 241.50,446.68 242.40,446.30 C243.30,445.92 244.47,446.25 245.50,446.00 C246.53,445.75 247.58,445.32 248.60,444.80 C249.62,444.28 250.58,442.83 251.60,442.90 C252.62,442.97 253.67,444.63 254.70,445.20 C255.73,445.77 256.77,446.37 257.80,446.30 C258.83,446.23 259.88,445.37 260.90,444.80 C261.92,444.23 263.02,442.70 263.90,442.90 C264.78,443.10 265.43,445.87 266.20,446.00 C266.97,446.13 267.73,444.40 268.50,443.70 C269.27,443.00 270.03,441.73 270.80,441.80 C271.57,441.87 272.33,443.87 273.10,444.10 C273.87,444.33 274.50,443.35 275.40,443.20 C276.30,443.05 277.47,443.12 278.50,443.20 C279.53,443.28 280.58,443.75 281.60,443.70 C282.62,443.65 283.72,442.83 284.60,442.90 C285.48,442.97 286.18,443.97 286.90,444.10 C287.62,444.23 288.43,444.67 288.90,443.70 C289.37,442.73 289.47,442.52 289.70,438.30 C289.93,434.08 290.12,424.15 290.30,418.40 C290.48,412.65 290.72,406.23 290.80,403.80" fill="none" stroke="#1a1ac0" stroke-width="1.6" stroke-linejoin="round"/>
<line x1="49.7" y1="436.8" x2="288" y2="419.0" stroke="#111" stroke-width="1.5" stroke-dasharray="5,4"/>
<text x="101.5" y="395.0" font-size="9.3" text-anchor="middle" fill="#c4262e" stroke="#c4262e" stroke-width="0.25" >trace</text>
<line x1="89.5" y1="399.7" x2="110" y2="399.7" stroke="#d42a2a" stroke-width="1.4"/>
<path d="M108,397.2 L115,399.7 L108,402.2 Z" fill="#d42a2a"/>
<text x="99.2" y="473.3" font-size="9.4" text-anchor="middle" fill="#2828b4" stroke="#2828b4" stroke-width="0.25" >retrace</text>
<line x1="89" y1="460.2" x2="111.2" y2="460.2" stroke="#1a1ac0" stroke-width="1.4"/>
<path d="M91,457.7 L84.3,460.2 L91,462.7 Z" fill="#1a1ac0"/>
<g stroke="#111" stroke-width="0.9" fill="#111">
<line x1="152.5" y1="383" x2="152.5" y2="406.5"/>
<path d="M150.9,385 L152.5,381.2 L154.1,385 Z" stroke="none"/>
<path d="M150.9,404.5 L152.5,408 L154.1,404.5 Z" stroke="none"/>
<line x1="152.5" y1="411" x2="152.5" y2="428.6"/>
<path d="M150.9,412.5 L152.5,409.2 L154.1,412.5 Z" stroke="none"/>
<line x1="152.5" y1="428.6" x2="156.3" y2="428.6"/>
<line x1="133.8" y1="447.5" x2="133.8" y2="458.5" stroke-width="1.1"/>
</g>
<text x="156.9" y="396.3" font-size="9.3" text-anchor="start" fill="#111" stroke="#111" stroke-width="0.25" >upward</text>
<text x="156.9" y="422.7" font-size="9.3" text-anchor="start" fill="#111" stroke="#111" stroke-width="0.25" >terraces</text>
<text x="149.0" y="470.0" font-size="9.3" text-anchor="middle" fill="#111" stroke="#111" stroke-width="0.25" >downward</text>
<text x="287.6" y="374.7" font-size="9.6" text-anchor="end" fill="#111" stroke="#111" stroke-width="0.25" >Normal load = 1139 nN</text>
<path d="M620.5,9.5 L362.6,9.5 L362.6,142.6 L620.5,142.6" fill="none" stroke="#3a3a3a" stroke-width="1.1"/>
<rect x="620" y="9.0" width="2" height="134.1" fill="#808080"/>
<line x1="356.4" y1="139.2" x2="362.6" y2="139.2" stroke="#3a3a3a" stroke-width="1.1"/>
<text x="353.3" y="142.3" font-size="8.7" text-anchor="end" fill="#111" stroke="#111" stroke-width="0.25" >0</text>
<line x1="356.4" y1="118.2" x2="362.6" y2="118.2" stroke="#3a3a3a" stroke-width="1.1"/>
<text x="353.3" y="121.3" font-size="8.7" text-anchor="end" fill="#111" stroke="#111" stroke-width="0.25" >400</text>
<line x1="356.4" y1="97.3" x2="362.6" y2="97.3" stroke="#3a3a3a" stroke-width="1.1"/>
<text x="353.3" y="100.4" font-size="8.7" text-anchor="end" fill="#111" stroke="#111" stroke-width="0.25" >800</text>
<line x1="356.4" y1="76.3" x2="362.6" y2="76.3" stroke="#3a3a3a" stroke-width="1.1"/>
<text x="353.3" y="79.4" font-size="8.7" text-anchor="end" fill="#111" stroke="#111" stroke-width="0.25" >1200</text>
<line x1="356.4" y1="55.4" x2="362.6" y2="55.4" stroke="#3a3a3a" stroke-width="1.1"/>
<text x="353.3" y="58.5" font-size="8.7" text-anchor="end" fill="#111" stroke="#111" stroke-width="0.25" >1600</text>
<line x1="356.4" y1="34.4" x2="362.6" y2="34.4" stroke="#3a3a3a" stroke-width="1.1"/>
<text x="353.3" y="37.5" font-size="8.7" text-anchor="end" fill="#111" stroke="#111" stroke-width="0.25" >2000</text>
<line x1="356.4" y1="13.5" x2="362.6" y2="13.5" stroke="#3a3a3a" stroke-width="1.1"/>
<text x="353.3" y="16.6" font-size="8.7" text-anchor="end" fill="#111" stroke="#111" stroke-width="0.25" >2400</text>
<line x1="366.3" y1="143.0" x2="366.3" y2="148.6" stroke="#3a3a3a" stroke-width="1.2"/>
<text x="366.3" y="160.4" font-size="8.8" text-anchor="middle" fill="#111" stroke="#111" stroke-width="0.25" >0</text>
<line x1="406.4" y1="143.0" x2="406.4" y2="148.6" stroke="#3a3a3a" stroke-width="1.2"/>
<text x="406.4" y="160.4" font-size="8.8" text-anchor="middle" fill="#111" stroke="#111" stroke-width="0.25" >200</text>
<line x1="446.5" y1="143.0" x2="446.5" y2="148.6" stroke="#3a3a3a" stroke-width="1.2"/>
<text x="446.5" y="160.4" font-size="8.8" text-anchor="middle" fill="#111" stroke="#111" stroke-width="0.25" >400</text>
<line x1="486.6" y1="143.0" x2="486.6" y2="148.6" stroke="#3a3a3a" stroke-width="1.2"/>
<text x="486.6" y="160.4" font-size="8.8" text-anchor="middle" fill="#111" stroke="#111" stroke-width="0.25" >600</text>
<line x1="526.7" y1="143.0" x2="526.7" y2="148.6" stroke="#3a3a3a" stroke-width="1.2"/>
<text x="526.7" y="160.4" font-size="8.8" text-anchor="middle" fill="#111" stroke="#111" stroke-width="0.25" >800</text>
<line x1="566.8" y1="143.0" x2="566.8" y2="148.6" stroke="#3a3a3a" stroke-width="1.2"/>
<text x="566.8" y="160.4" font-size="8.8" text-anchor="middle" fill="#111" stroke="#111" stroke-width="0.25" >1000</text>
<line x1="606.9" y1="143.0" x2="606.9" y2="148.6" stroke="#3a3a3a" stroke-width="1.2"/>
<text x="606.9" y="160.4" font-size="8.8" text-anchor="middle" fill="#111" stroke="#111" stroke-width="0.25" >1200</text>
<text x="493.4" y="173.2" font-size="10.1" text-anchor="middle" fill="#111" stroke="#111" stroke-width="0.25" >Normal load (nN)</text>
<text x="322.2" y="73.7" font-size="10.1" text-anchor="middle" fill="#111" stroke="#111" stroke-width="0.25" transform="rotate(-90 322.2 73.7)">Frictional force (nN)</text>
<circle cx="371.8" cy="21.7" r="3.1" fill="none" stroke="#dc7c88" stroke-width="0.9"/>
<text x="385.6" y="25.0" font-size="9.8" text-anchor="start" fill="#111" stroke="#111" stroke-width="0.25" >1st step (&#956; = 0.87)</text>
<rect x="368.8" y="29.7" width="6" height="6" fill="none" stroke="#7a7a7a" stroke-width="0.9"/>
<text x="385.6" y="36.0" font-size="9.8" text-anchor="start" fill="#111" stroke="#111" stroke-width="0.25" >2nd step (&#956; = 1.43)</text>
<path d="M371.8,40.3 L375.2,46.3 L368.4,46.3 Z" fill="none" stroke="#7878d4" stroke-width="0.9"/>
<text x="385.6" y="47.0" font-size="9.8" text-anchor="start" fill="#111" stroke="#111" stroke-width="0.25" >3rd step (&#956; = 1.33)</text>
<text x="586.9" y="24.5" font-size="9.8" text-anchor="middle" fill="#111" stroke="#111" stroke-width="0.25" >upward</text>
<defs><clipPath id="cl9"><rect x="362.6" y="9.5" width="257.9" height="133.1"/></clipPath></defs>
<g clip-path="url(#cl9)">
<line x1="362.6" y1="139.8" x2="620.5" y2="44.2" stroke="#111" stroke-width="1.8" stroke-dasharray="4.7,4.3"/>
<line x1="362.6" y1="138.5" x2="620.5" y2="78.9" stroke="#d62020" stroke-width="1.8" stroke-dasharray="4.7,4.3"/>
<line x1="362.6" y1="143.4" x2="620.5" y2="55.6" stroke="#2020d0" stroke-width="1.8" stroke-dasharray="4.7,4.3"/>
</g>
<rect x="391.0" y="126.6" width="6" height="6" fill="none" stroke="#7a7a7a" stroke-width="0.9"/>
<rect x="413.3" y="120.0" width="6" height="6" fill="none" stroke="#7a7a7a" stroke-width="0.9"/>
<rect x="435.6" y="108.2" width="6" height="6" fill="none" stroke="#7a7a7a" stroke-width="0.9"/>
<rect x="457.9" y="98.4" width="6" height="6" fill="none" stroke="#7a7a7a" stroke-width="0.9"/>
<rect x="480.2" y="88.6" width="6" height="6" fill="none" stroke="#7a7a7a" stroke-width="0.9"/>
<rect x="502.5" y="82.3" width="6" height="6" fill="none" stroke="#7a7a7a" stroke-width="0.9"/>
<rect x="524.8" y="74.9" width="6" height="6" fill="none" stroke="#7a7a7a" stroke-width="0.9"/>
<rect x="547.1" y="65.8" width="6" height="6" fill="none" stroke="#7a7a7a" stroke-width="0.9"/>
<rect x="569.4" y="58.5" width="6" height="6" fill="none" stroke="#7a7a7a" stroke-width="0.9"/>
<rect x="591.7" y="53.3" width="6" height="6" fill="none" stroke="#7a7a7a" stroke-width="0.9"/>
<circle cx="394.0" cy="134.7" r="3.1" fill="none" stroke="#dc7c88" stroke-width="0.9"/>
<circle cx="416.3" cy="127.8" r="3.1" fill="none" stroke="#dc7c88" stroke-width="0.9"/>
<circle cx="438.6" cy="120.5" r="3.1" fill="none" stroke="#dc7c88" stroke-width="0.9"/>
<circle cx="460.9" cy="114.0" r="3.1" fill="none" stroke="#dc7c88" stroke-width="0.9"/>
<circle cx="483.2" cy="107.6" r="3.1" fill="none" stroke="#dc7c88" stroke-width="0.9"/>
<circle cx="505.5" cy="104.2" r="3.1" fill="none" stroke="#dc7c88" stroke-width="0.9"/>
<circle cx="527.8" cy="102.6" r="3.1" fill="none" stroke="#dc7c88" stroke-width="0.9"/>
<circle cx="550.1" cy="96.9" r="3.1" fill="none" stroke="#dc7c88" stroke-width="0.9"/>
<circle cx="572.4" cy="92.1" r="3.1" fill="none" stroke="#dc7c88" stroke-width="0.9"/>
<circle cx="594.7" cy="85.5" r="3.1" fill="none" stroke="#dc7c88" stroke-width="0.9"/>
<path d="M394.0,129.2 L397.4,135.2 L390.6,135.2 Z" fill="none" stroke="#7878d4" stroke-width="0.9"/>
<path d="M416.3,120.4 L419.7,126.4 L412.9,126.4 Z" fill="none" stroke="#7878d4" stroke-width="0.9"/>
<path d="M438.6,115.2 L442.0,121.2 L435.2,121.2 Z" fill="none" stroke="#7878d4" stroke-width="0.9"/>
<path d="M460.9,106.6 L464.3,112.6 L457.5,112.6 Z" fill="none" stroke="#7878d4" stroke-width="0.9"/>
<path d="M483.2,100.8 L486.6,106.8 L479.8,106.8 Z" fill="none" stroke="#7878d4" stroke-width="0.9"/>
<path d="M505.5,94.6 L508.9,100.6 L502.1,100.6 Z" fill="none" stroke="#7878d4" stroke-width="0.9"/>
<path d="M527.8,87.8 L531.2,93.8 L524.4,93.8 Z" fill="none" stroke="#7878d4" stroke-width="0.9"/>
<path d="M550.1,74.5 L553.5,80.5 L546.7,80.5 Z" fill="none" stroke="#7878d4" stroke-width="0.9"/>
<path d="M572.4,66.6 L575.8,72.6 L569.0,72.6 Z" fill="none" stroke="#7878d4" stroke-width="0.9"/>
<path d="M594.7,57.4 L598.1,63.4 L591.3,63.4 Z" fill="none" stroke="#7878d4" stroke-width="0.9"/>
<path d="M620.5,183.2 L362.6,183.2 L362.6,316.4 L620.5,316.4" fill="none" stroke="#3a3a3a" stroke-width="1.1"/>
<rect x="620" y="182.7" width="2" height="134.2" fill="#808080"/>
<line x1="356.4" y1="312.7" x2="362.6" y2="312.7" stroke="#3a3a3a" stroke-width="1.1"/>
<text x="353.3" y="315.8" font-size="8.7" text-anchor="end" fill="#111" stroke="#111" stroke-width="0.25" >0</text>
<line x1="356.4" y1="291.8" x2="362.6" y2="291.8" stroke="#3a3a3a" stroke-width="1.1"/>
<text x="353.3" y="294.9" font-size="8.7" text-anchor="end" fill="#111" stroke="#111" stroke-width="0.25" >400</text>
<line x1="356.4" y1="270.9" x2="362.6" y2="270.9" stroke="#3a3a3a" stroke-width="1.1"/>
<text x="353.3" y="274.0" font-size="8.7" text-anchor="end" fill="#111" stroke="#111" stroke-width="0.25" >800</text>
<line x1="356.4" y1="249.9" x2="362.6" y2="249.9" stroke="#3a3a3a" stroke-width="1.1"/>
<text x="353.3" y="253.0" font-size="8.7" text-anchor="end" fill="#111" stroke="#111" stroke-width="0.25" >1200</text>
<line x1="356.4" y1="229.0" x2="362.6" y2="229.0" stroke="#3a3a3a" stroke-width="1.1"/>
<text x="353.3" y="232.1" font-size="8.7" text-anchor="end" fill="#111" stroke="#111" stroke-width="0.25" >1600</text>
<line x1="356.4" y1="208.1" x2="362.6" y2="208.1" stroke="#3a3a3a" stroke-width="1.1"/>
<text x="353.3" y="211.2" font-size="8.7" text-anchor="end" fill="#111" stroke="#111" stroke-width="0.25" >2000</text>
<line x1="356.4" y1="187.2" x2="362.6" y2="187.2" stroke="#3a3a3a" stroke-width="1.1"/>
<text x="353.3" y="190.3" font-size="8.7" text-anchor="end" fill="#111" stroke="#111" stroke-width="0.25" >2400</text>
<line x1="366.3" y1="316.8" x2="366.3" y2="322.4" stroke="#3a3a3a" stroke-width="1.2"/>
<text x="366.3" y="334.2" font-size="8.8" text-anchor="middle" fill="#111" stroke="#111" stroke-width="0.25" >0</text>
<line x1="406.4" y1="316.8" x2="406.4" y2="322.4" stroke="#3a3a3a" stroke-width="1.2"/>
<text x="406.4" y="334.2" font-size="8.8" text-anchor="middle" fill="#111" stroke="#111" stroke-width="0.25" >200</text>
<line x1="446.5" y1="316.8" x2="446.5" y2="322.4" stroke="#3a3a3a" stroke-width="1.2"/>
<text x="446.5" y="334.2" font-size="8.8" text-anchor="middle" fill="#111" stroke="#111" stroke-width="0.25" >400</text>
<line x1="486.6" y1="316.8" x2="486.6" y2="322.4" stroke="#3a3a3a" stroke-width="1.2"/>
<text x="486.6" y="334.2" font-size="8.8" text-anchor="middle" fill="#111" stroke="#111" stroke-width="0.25" >600</text>
<line x1="526.7" y1="316.8" x2="526.7" y2="322.4" stroke="#3a3a3a" stroke-width="1.2"/>
<text x="526.7" y="334.2" font-size="8.8" text-anchor="middle" fill="#111" stroke="#111" stroke-width="0.25" >800</text>
<line x1="566.8" y1="316.8" x2="566.8" y2="322.4" stroke="#3a3a3a" stroke-width="1.2"/>
<text x="566.8" y="334.2" font-size="8.8" text-anchor="middle" fill="#111" stroke="#111" stroke-width="0.25" >1000</text>
<line x1="606.9" y1="316.8" x2="606.9" y2="322.4" stroke="#3a3a3a" stroke-width="1.2"/>
<text x="606.9" y="334.2" font-size="8.8" text-anchor="middle" fill="#111" stroke="#111" stroke-width="0.25" >1200</text>
<text x="493.4" y="347.0" font-size="10.1" text-anchor="middle" fill="#111" stroke="#111" stroke-width="0.25" >Normal load (nN)</text>
<text x="322.2" y="245.8" font-size="10.1" text-anchor="middle" fill="#111" stroke="#111" stroke-width="0.25" transform="rotate(-90 322.2 245.8)">Frictional force (nN)</text>
<circle cx="371.8" cy="195.4" r="3.1" fill="none" stroke="#dc7c88" stroke-width="0.9"/>
<text x="385.6" y="198.7" font-size="9.8" text-anchor="start" fill="#111" stroke="#111" stroke-width="0.25" >1st step (&#956; = 0.51)</text>
<rect x="368.8" y="203.4" width="6" height="6" fill="none" stroke="#7a7a7a" stroke-width="0.9"/>
<text x="385.6" y="209.7" font-size="9.8" text-anchor="start" fill="#111" stroke="#111" stroke-width="0.25" >2nd step (&#956; = 0.48)</text>
<path d="M371.8,214.0 L375.2,220.0 L368.4,220.0 Z" fill="none" stroke="#7878d4" stroke-width="0.9"/>
<text x="385.6" y="220.7" font-size="9.8" text-anchor="start" fill="#111" stroke="#111" stroke-width="0.25" >3rd step (&#956; = 0.47)</text>
<text x="582.2" y="199.1" font-size="9.8" text-anchor="middle" fill="#111" stroke="#111" stroke-width="0.25" >downward</text>
<defs><clipPath id="cl183"><rect x="362.6" y="183.2" width="257.9" height="133.2"/></clipPath></defs>
<g clip-path="url(#cl183)">
<line x1="362.6" y1="313.2" x2="620.5" y2="282.3" stroke="#111" stroke-width="1.8" stroke-dasharray="4.7,4.3"/>
<line x1="362.6" y1="314.8" x2="620.5" y2="284.4" stroke="#d62020" stroke-width="1.8" stroke-dasharray="4.7,4.3"/>
<line x1="362.6" y1="311.6" x2="620.5" y2="280.2" stroke="#2020d0" stroke-width="1.8" stroke-dasharray="4.7,4.3"/>
</g>
<rect x="391.0" y="306.7" width="6" height="6" fill="none" stroke="#7a7a7a" stroke-width="0.9"/>
<rect x="413.3" y="304.6" width="6" height="6" fill="none" stroke="#7a7a7a" stroke-width="0.9"/>
<rect x="435.6" y="301.5" width="6" height="6" fill="none" stroke="#7a7a7a" stroke-width="0.9"/>
<rect x="457.9" y="298.3" width="6" height="6" fill="none" stroke="#7a7a7a" stroke-width="0.9"/>
<rect x="480.2" y="296.3" width="6" height="6" fill="none" stroke="#7a7a7a" stroke-width="0.9"/>
<rect x="502.5" y="293.5" width="6" height="6" fill="none" stroke="#7a7a7a" stroke-width="0.9"/>
<rect x="524.8" y="289.0" width="6" height="6" fill="none" stroke="#7a7a7a" stroke-width="0.9"/>
<rect x="547.1" y="287.2" width="6" height="6" fill="none" stroke="#7a7a7a" stroke-width="0.9"/>
<rect x="569.4" y="285.0" width="6" height="6" fill="none" stroke="#7a7a7a" stroke-width="0.9"/>
<rect x="591.7" y="281.4" width="6" height="6" fill="none" stroke="#7a7a7a" stroke-width="0.9"/>
<circle cx="394.0" cy="312.8" r="3.1" fill="none" stroke="#dc7c88" stroke-width="0.9"/>
<circle cx="416.3" cy="311.4" r="3.1" fill="none" stroke="#dc7c88" stroke-width="0.9"/>
<circle cx="438.6" cy="308.2" r="3.1" fill="none" stroke="#dc7c88" stroke-width="0.9"/>
<circle cx="460.9" cy="303.0" r="3.1" fill="none" stroke="#dc7c88" stroke-width="0.9"/>
<circle cx="483.2" cy="299.9" r="3.1" fill="none" stroke="#dc7c88" stroke-width="0.9"/>
<circle cx="505.5" cy="297.0" r="3.1" fill="none" stroke="#dc7c88" stroke-width="0.9"/>
<circle cx="527.8" cy="293.8" r="3.1" fill="none" stroke="#dc7c88" stroke-width="0.9"/>
<circle cx="550.1" cy="291.0" r="3.1" fill="none" stroke="#dc7c88" stroke-width="0.9"/>
<circle cx="572.4" cy="290.2" r="3.1" fill="none" stroke="#dc7c88" stroke-width="0.9"/>
<circle cx="594.7" cy="285.3" r="3.1" fill="none" stroke="#dc7c88" stroke-width="0.9"/>
<path d="M394.0,303.8 L397.4,309.8 L390.6,309.8 Z" fill="none" stroke="#7878d4" stroke-width="0.9"/>
<path d="M416.3,301.1 L419.7,307.1 L412.9,307.1 Z" fill="none" stroke="#7878d4" stroke-width="0.9"/>
<path d="M438.6,299.0 L442.0,305.0 L435.2,305.0 Z" fill="none" stroke="#7878d4" stroke-width="0.9"/>
<path d="M460.9,295.9 L464.3,301.9 L457.5,301.9 Z" fill="none" stroke="#7878d4" stroke-width="0.9"/>
<path d="M483.2,292.7 L486.6,298.7 L479.8,298.7 Z" fill="none" stroke="#7878d4" stroke-width="0.9"/>
<path d="M505.5,290.6 L508.9,296.6 L502.1,296.6 Z" fill="none" stroke="#7878d4" stroke-width="0.9"/>
<path d="M527.8,287.4 L531.2,293.4 L524.4,293.4 Z" fill="none" stroke="#7878d4" stroke-width="0.9"/>
<path d="M550.1,285.3 L553.5,291.3 L546.7,291.3 Z" fill="none" stroke="#7878d4" stroke-width="0.9"/>
<path d="M572.4,282.5 L575.8,288.5 L569.0,288.5 Z" fill="none" stroke="#7878d4" stroke-width="0.9"/>
<path d="M594.7,279.3 L598.1,285.3 L591.3,285.3 Z" fill="none" stroke="#7878d4" stroke-width="0.9"/>
<path d="M620.5,354.7 L362.6,354.7 L362.6,487.8 L620.5,487.8" fill="none" stroke="#3a3a3a" stroke-width="1.1"/>
<rect x="620" y="354.2" width="2" height="134.10000000000002" fill="#808080"/>
<line x1="356.4" y1="484.5" x2="362.6" y2="484.5" stroke="#3a3a3a" stroke-width="1.1"/>
<text x="353.3" y="487.6" font-size="8.7" text-anchor="end" fill="#111" stroke="#111" stroke-width="0.25" >0</text>
<line x1="356.4" y1="463.5" x2="362.6" y2="463.5" stroke="#3a3a3a" stroke-width="1.1"/>
<text x="353.3" y="466.6" font-size="8.7" text-anchor="end" fill="#111" stroke="#111" stroke-width="0.25" >400</text>
<line x1="356.4" y1="442.6" x2="362.6" y2="442.6" stroke="#3a3a3a" stroke-width="1.1"/>
<text x="353.3" y="445.7" font-size="8.7" text-anchor="end" fill="#111" stroke="#111" stroke-width="0.25" >800</text>
<line x1="356.4" y1="421.6" x2="362.6" y2="421.6" stroke="#3a3a3a" stroke-width="1.1"/>
<text x="353.3" y="424.7" font-size="8.7" text-anchor="end" fill="#111" stroke="#111" stroke-width="0.25" >1200</text>
<line x1="356.4" y1="400.6" x2="362.6" y2="400.6" stroke="#3a3a3a" stroke-width="1.1"/>
<text x="353.3" y="403.7" font-size="8.7" text-anchor="end" fill="#111" stroke="#111" stroke-width="0.25" >1600</text>
<line x1="356.4" y1="379.7" x2="362.6" y2="379.7" stroke="#3a3a3a" stroke-width="1.1"/>
<text x="353.3" y="382.8" font-size="8.7" text-anchor="end" fill="#111" stroke="#111" stroke-width="0.25" >2000</text>
<line x1="356.4" y1="358.7" x2="362.6" y2="358.7" stroke="#3a3a3a" stroke-width="1.1"/>
<text x="353.3" y="361.8" font-size="8.7" text-anchor="end" fill="#111" stroke="#111" stroke-width="0.25" >2400</text>
<line x1="366.3" y1="488.2" x2="366.3" y2="493.8" stroke="#3a3a3a" stroke-width="1.2"/>
<text x="366.3" y="505.6" font-size="8.8" text-anchor="middle" fill="#111" stroke="#111" stroke-width="0.25" >0</text>
<line x1="406.4" y1="488.2" x2="406.4" y2="493.8" stroke="#3a3a3a" stroke-width="1.2"/>
<text x="406.4" y="505.6" font-size="8.8" text-anchor="middle" fill="#111" stroke="#111" stroke-width="0.25" >200</text>
<line x1="446.5" y1="488.2" x2="446.5" y2="493.8" stroke="#3a3a3a" stroke-width="1.2"/>
<text x="446.5" y="505.6" font-size="8.8" text-anchor="middle" fill="#111" stroke="#111" stroke-width="0.25" >400</text>
<line x1="486.6" y1="488.2" x2="486.6" y2="493.8" stroke="#3a3a3a" stroke-width="1.2"/>
<text x="486.6" y="505.6" font-size="8.8" text-anchor="middle" fill="#111" stroke="#111" stroke-width="0.25" >600</text>
<line x1="526.7" y1="488.2" x2="526.7" y2="493.8" stroke="#3a3a3a" stroke-width="1.2"/>
<text x="526.7" y="505.6" font-size="8.8" text-anchor="middle" fill="#111" stroke="#111" stroke-width="0.25" >800</text>
<line x1="566.8" y1="488.2" x2="566.8" y2="493.8" stroke="#3a3a3a" stroke-width="1.2"/>
<text x="566.8" y="505.6" font-size="8.8" text-anchor="middle" fill="#111" stroke="#111" stroke-width="0.25" >1000</text>
<line x1="606.9" y1="488.2" x2="606.9" y2="493.8" stroke="#3a3a3a" stroke-width="1.2"/>
<text x="606.9" y="505.6" font-size="8.8" text-anchor="middle" fill="#111" stroke="#111" stroke-width="0.25" >1200</text>
<text x="493.4" y="518.4" font-size="10.1" text-anchor="middle" fill="#111" stroke="#111" stroke-width="0.25" >Normal load (nN)</text>
<text x="322.2" y="418.9" font-size="10.1" text-anchor="middle" fill="#111" stroke="#111" stroke-width="0.25" transform="rotate(-90 322.2 418.9)">Frictional force (nN)</text>
<circle cx="373.0" cy="366.9" r="3.1" fill="none" stroke="#dc7c88" stroke-width="0.9"/>
<text x="386.8" y="370.2" font-size="9.8" text-anchor="start" fill="#111" stroke="#111" stroke-width="0.25" >1st step (&#956; = 0.48)</text>
<rect x="370.0" y="374.9" width="6" height="6" fill="none" stroke="#7a7a7a" stroke-width="0.9"/>
<text x="386.8" y="381.2" font-size="9.8" text-anchor="start" fill="#111" stroke="#111" stroke-width="0.25" >2nd step (&#956; = 0.42)</text>
<path d="M373.0,385.5 L376.4,391.5 L369.6,391.5 Z" fill="none" stroke="#7878d4" stroke-width="0.9"/>
<text x="386.8" y="392.2" font-size="9.8" text-anchor="start" fill="#111" stroke="#111" stroke-width="0.25" >3rd step (&#956; = 0.35)</text>
<text x="583.7" y="372.1" font-size="9.8" text-anchor="middle" fill="#111" stroke="#111" stroke-width="0.25" >terraces</text>
<defs><clipPath id="cl354"><rect x="362.6" y="354.7" width="257.9" height="133.10000000000002"/></clipPath></defs>
<g clip-path="url(#cl354)">
<line x1="362.6" y1="487.0" x2="620.5" y2="460.8" stroke="#111" stroke-width="1.8" stroke-dasharray="4.7,4.3"/>
<line x1="362.6" y1="486.0" x2="620.5" y2="455.0" stroke="#d62020" stroke-width="1.8" stroke-dasharray="4.7,4.3"/>
<line x1="362.6" y1="484.0" x2="620.5" y2="460.3" stroke="#2020d0" stroke-width="1.8" stroke-dasharray="4.7,4.3"/>
</g>
<rect x="391.0" y="476.3" width="6" height="6" fill="none" stroke="#7a7a7a" stroke-width="0.9"/>
<rect x="413.3" y="475.2" width="6" height="6" fill="none" stroke="#7a7a7a" stroke-width="0.9"/>
<rect x="435.6" y="474.6" width="6" height="6" fill="none" stroke="#7a7a7a" stroke-width="0.9"/>
<rect x="457.9" y="474.2" width="6" height="6" fill="none" stroke="#7a7a7a" stroke-width="0.9"/>
<rect x="480.2" y="472.5" width="6" height="6" fill="none" stroke="#7a7a7a" stroke-width="0.9"/>
<rect x="502.5" y="470.2" width="6" height="6" fill="none" stroke="#7a7a7a" stroke-width="0.9"/>
<rect x="524.8" y="469.0" width="6" height="6" fill="none" stroke="#7a7a7a" stroke-width="0.9"/>
<rect x="547.1" y="465.4" width="6" height="6" fill="none" stroke="#7a7a7a" stroke-width="0.9"/>
<rect x="569.4" y="457.9" width="6" height="6" fill="none" stroke="#7a7a7a" stroke-width="0.9"/>
<rect x="591.7" y="452.0" width="6" height="6" fill="none" stroke="#7a7a7a" stroke-width="0.9"/>
<circle cx="394.0" cy="480.0" r="3.1" fill="none" stroke="#dc7c88" stroke-width="0.9"/>
<circle cx="416.3" cy="478.5" r="3.1" fill="none" stroke="#dc7c88" stroke-width="0.9"/>
<circle cx="438.6" cy="477.6" r="3.1" fill="none" stroke="#dc7c88" stroke-width="0.9"/>
<circle cx="460.9" cy="476.0" r="3.1" fill="none" stroke="#dc7c88" stroke-width="0.9"/>
<circle cx="483.2" cy="474.0" r="3.1" fill="none" stroke="#dc7c88" stroke-width="0.9"/>
<circle cx="505.5" cy="472.0" r="3.1" fill="none" stroke="#dc7c88" stroke-width="0.9"/>
<circle cx="527.8" cy="466.9" r="3.1" fill="none" stroke="#dc7c88" stroke-width="0.9"/>
<circle cx="550.1" cy="463.5" r="3.1" fill="none" stroke="#dc7c88" stroke-width="0.9"/>
<circle cx="572.4" cy="459.2" r="3.1" fill="none" stroke="#dc7c88" stroke-width="0.9"/>
<circle cx="594.7" cy="453.5" r="3.1" fill="none" stroke="#dc7c88" stroke-width="0.9"/>
<path d="M394.0,477.6 L397.4,483.6 L390.6,483.6 Z" fill="none" stroke="#7878d4" stroke-width="0.9"/>
<path d="M416.3,475.6 L419.7,481.6 L412.9,481.6 Z" fill="none" stroke="#7878d4" stroke-width="0.9"/>
<path d="M438.6,473.6 L442.0,479.6 L435.2,479.6 Z" fill="none" stroke="#7878d4" stroke-width="0.9"/>
<path d="M460.9,470.0 L464.3,476.0 L457.5,476.0 Z" fill="none" stroke="#7878d4" stroke-width="0.9"/>
<path d="M483.2,467.9 L486.6,473.9 L479.8,473.9 Z" fill="none" stroke="#7878d4" stroke-width="0.9"/>
<path d="M505.5,466.0 L508.9,472.0 L502.1,472.0 Z" fill="none" stroke="#7878d4" stroke-width="0.9"/>
<path d="M527.8,463.5 L531.2,469.5 L524.4,469.5 Z" fill="none" stroke="#7878d4" stroke-width="0.9"/>
<path d="M550.1,462.6 L553.5,468.6 L546.7,468.6 Z" fill="none" stroke="#7878d4" stroke-width="0.9"/>
<path d="M572.4,459.6 L575.8,465.6 L569.0,465.6 Z" fill="none" stroke="#7878d4" stroke-width="0.9"/>
<path d="M594.7,458.6 L598.1,464.6 L591.3,464.6 Z" fill="none" stroke="#7878d4" stroke-width="0.9"/>
</svg></body></html>
